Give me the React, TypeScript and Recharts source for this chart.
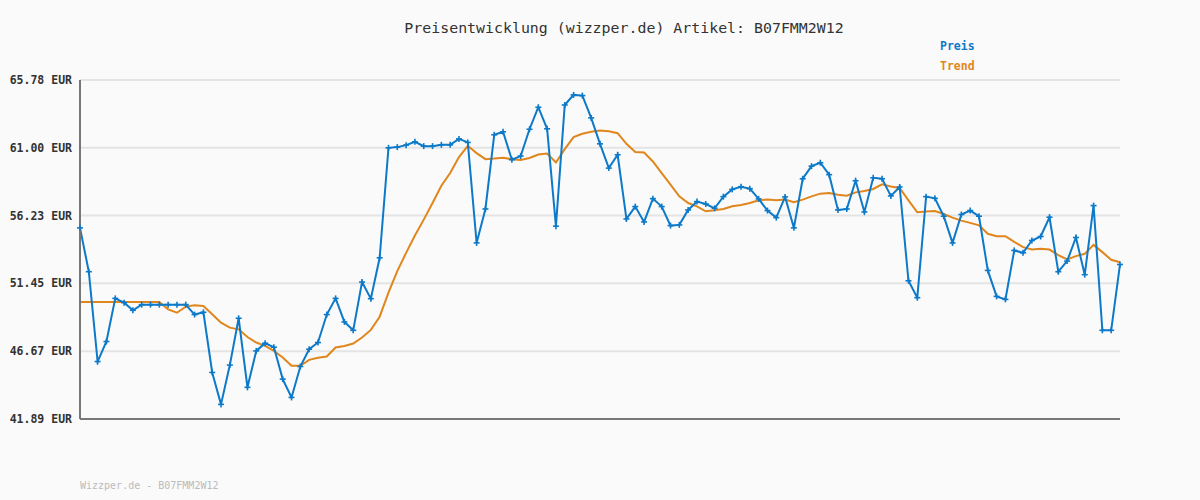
import { CartesianGrid, Line, LineChart, XAxis, YAxis } from 'recharts'

const preis = [
  55.36, 52.27, 45.94, 47.35, 50.39, 50.09, 49.55, 49.95, 49.95, 49.95,
  49.95, 49.95, 49.95, 49.25, 49.41, 45.17, 42.92, 45.69, 48.99, 44.12,
  46.69, 47.23, 46.95, 44.7, 43.41, 45.59, 46.81, 47.28, 49.25, 50.39,
  48.73, 48.14, 51.54, 50.37, 53.25, 61.0, 61.05, 61.19, 61.42, 61.12,
  61.12, 61.21, 61.21, 61.63, 61.38, 54.3, 56.69, 61.92, 62.13, 60.16,
  60.42, 62.31, 63.86, 62.34, 55.48, 64.02, 64.73, 64.68, 63.11, 61.28,
  59.57, 60.51, 55.99, 56.86, 55.78, 57.42, 56.86, 55.52, 55.57, 56.62,
  57.21, 57.04, 56.74, 57.56, 58.07, 58.26, 58.12, 57.4, 56.58, 56.08,
  57.54, 55.36, 58.82, 59.71, 59.95, 59.11, 56.62, 56.69, 58.68, 56.48,
  58.89, 58.82, 57.61, 58.24, 51.63, 50.44, 57.56, 57.44, 56.18, 54.3,
  56.3, 56.58, 56.18, 52.36, 50.53, 50.32, 53.77, 53.6, 54.47, 54.75,
  56.11, 52.27, 53.02, 54.68, 52.06, 56.93, 48.14, 48.14, 52.78,
]

const trend = [
  50.13, 50.13, 50.13, 50.13, 50.13, 50.13, 50.13, 50.13, 50.13, 50.13,
  49.62, 49.38, 49.81, 49.9, 49.85, 49.27, 48.68, 48.33, 48.21, 47.67,
  47.28, 47.04, 46.69, 46.22, 45.64, 45.64, 46.06, 46.2, 46.29, 46.93,
  47.04, 47.21, 47.63, 48.17, 49.1, 50.79, 52.31, 53.6, 54.82, 55.94,
  57.11, 58.33, 59.22, 60.35, 61.14, 60.63, 60.2, 60.25, 60.3, 60.2,
  60.14, 60.28, 60.53, 60.6, 59.97, 60.91, 61.75, 61.99, 62.13, 62.22,
  62.17, 62.03, 61.28, 60.7, 60.67, 60.04, 59.22, 58.4, 57.58, 57.11,
  56.88, 56.53, 56.6, 56.69, 56.88, 56.97, 57.11, 57.3, 57.35, 57.3,
  57.35, 57.16, 57.35, 57.58, 57.77, 57.82, 57.7, 57.63, 57.86, 57.96,
  58.1, 58.43, 58.28, 58.17, 57.3, 56.46, 56.51, 56.55, 56.34, 56.08,
  55.87, 55.71, 55.54, 54.94, 54.77, 54.77, 54.37, 54.0, 53.83, 53.88,
  53.83, 53.44, 53.13, 53.37, 53.53, 54.16, 53.65, 53.11, 52.94,
]

const yTicks = [41.89, 46.67, 51.45, 56.23, 61.0, 65.78]

const data = preis.map((p, i) => ({ i, preis: p, trend: trend[i] }))

const MONO = '"DejaVu Sans Mono", "Liberation Mono", monospace'
const BLUE = '#0d79c9'
const ORANGE = '#e0861c'

// kleines Kreuz als Punktmarker
const Cross = (props: any) => {
  const { cx, cy } = props
  if (cx == null || cy == null) return null
  return (
    <g stroke={BLUE} strokeWidth={1.6}>
      <line x1={cx - 3} y1={cy} x2={cx + 3} y2={cy} />
      <line x1={cx} y1={cy - 3} x2={cx} y2={cy + 3} />
    </g>
  )
}

const YTick = (props: any) => {
  const { y, payload } = props
  return (
    <text x={72} y={y} dy={4} textAnchor="end" fontFamily={MONO} fontSize={11.5} fontWeight="bold" fill="#333">
      {payload.value.toFixed(2)} EUR
    </text>
  )
}

export default function App() {
  return (
    <div style={{ position: 'absolute', left: 0, top: 0, width: 1200, height: 500, background: '#fafafa' }}>
      <div style={{ position: 'absolute', left: 0, top: 19, width: 1248, textAlign: 'center', fontFamily: MONO, fontSize: 14.9, color: '#333' }}>
        Preisentwicklung (wizzper.de) Artikel: B07FMM2W12
      </div>
      <div style={{ position: 'absolute', left: 940, top: 39, fontFamily: MONO, fontSize: 11.5, fontWeight: 'bold', color: BLUE }}>Preis</div>
      <div style={{ position: 'absolute', left: 940, top: 59, fontFamily: MONO, fontSize: 11.5, fontWeight: 'bold', color: ORANGE }}>Trend</div>
      <div style={{ position: 'absolute', left: 80, top: 480, fontFamily: MONO, fontSize: 10, color: '#bbb' }}>Wizzper.de - B07FMM2W12</div>
      <LineChart width={1200} height={500} data={data} margin={{ top: 80, right: 80, bottom: 76, left: 0 }}>
        <CartesianGrid vertical={false} stroke="#e4e4e4" strokeWidth={2} />
        <XAxis dataKey="i" type="number" domain={[0, 118]} tick={false} tickLine={false} height={5} axisLine={{ stroke: '#777', strokeWidth: 2 }} />
        <YAxis
          width={80}
          domain={[41.89, 65.78]}
          ticks={yTicks}
          tick={<YTick />}
          tickLine={false}
          axisLine={{ stroke: '#777', strokeWidth: 2 }}
        />
        <Line dataKey="trend" stroke={ORANGE} strokeWidth={2} dot={false} isAnimationActive={false} />
        <Line dataKey="preis" stroke={BLUE} strokeWidth={2} dot={<Cross />} activeDot={false} isAnimationActive={false} />
      </LineChart>
    </div>
  )
}
